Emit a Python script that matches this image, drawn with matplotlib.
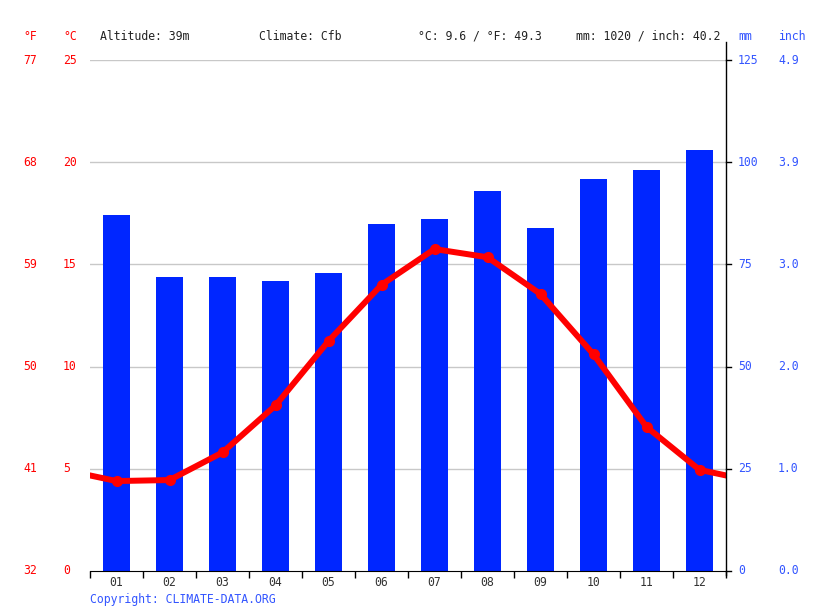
import matplotlib.pyplot as plt
import matplotlib.transforms as mtransforms

# climate data
months = ['01', '02', '03', '04', '05', '06', '07', '08', '09', '10', '11', '12']
precip_mm = [87, 72, 72, 71, 73, 85, 86, 93, 84, 96, 98, 103]
temp_c = [4.4, 4.45, 5.8, 8.1, 11.25, 14.0, 15.75, 15.35, 13.55, 10.6, 7.05, 4.95]
c_ticks = [0, 5, 10, 15, 20, 25]
f_labels = ['32', '41', '50', '59', '68', '77']
mm_ticks = [0, 25, 50, 75, 100, 125]
inch_labels = ['0.0', '1.0', '2.0', '3.0', '3.9', '4.9']

W, H = 815, 611
red = '#ff0000'
blue = '#0026ff'
txt_blue = '#3355ff'
mono = 'DejaVu Sans Mono'
fs = 8.3

fig = plt.figure(figsize=(W / 100, H / 100), dpi=100)
ax = fig.add_axes([90 / W, 40 / H, 636 / W, 511 / H])
ax2 = ax.twinx()

x = list(range(1, 13))
# bars on the mm axis
ax2.bar(x, precip_mm, width=0.51, color=blue, zorder=2)
ax2.set_ylim(0, 125)

# temperature line wraps around the year at the edges
line_x = [0] + x + [13]
line_y = [temp_c[-1]] + temp_c + [temp_c[0]]
ax.plot(line_x, line_y, color=red, lw=4.3, zorder=5, solid_capstyle='round')
ax.plot(x, temp_c, 'o', color=red, ms=7, zorder=6)
ax.set_zorder(ax2.get_zorder() + 1)
ax.patch.set_visible(False)
ax.set_xlim(0.5, 12.5)
ax.set_ylim(0, 25)

for c in c_ticks[1:]:
    ax2.axhline(c * 5, color='#c8c8c8', lw=1, zorder=1)

for a in (ax, ax2):
    for s in ['top', 'left', 'right']:
        a.spines[s].set_visible(False)
    a.set_yticks([])
ax2.spines['bottom'].set_visible(False)
ax.spines['bottom'].set_color('black')

# month ticks at the boundaries, labels centred
ax.set_xticks([i + 0.5 for i in range(0, 13)], minor=False)
ax.set_xticklabels([])
ax.tick_params(axis='x', length=5, width=1, color='black')
for i, m in enumerate(months):
    ax.text(x[i], -0.55, m, ha='center', va='center', fontsize=fs, family=mono,
            color='#333333')

# right spine extends up into the header
fig.add_artist(plt.Line2D([726 / W, 726 / W], [1 - 42 / H, 1 - 575 / H],
                          color='black', lw=1))

trans_l = mtransforms.blended_transform_factory(fig.transFigure, ax.transData)
trans_r = mtransforms.blended_transform_factory(fig.transFigure, ax2.transData)
for c, f in zip(c_ticks, f_labels):
    fig.text(23 / W, c, f, transform=trans_l, ha='left', va='center',
             fontsize=fs, family=mono, color=red)
    fig.text(63 / W, c, str(c), transform=trans_l, ha='left', va='center',
             fontsize=fs, family=mono, color=red)
for mm, inch in zip(mm_ticks, inch_labels):
    fig.text(738 / W, mm, str(mm), transform=trans_r, ha='left', va='center',
             fontsize=fs, family=mono, color=txt_blue)
    fig.text(778 / W, mm, inch, transform=trans_r, ha='left', va='center',
             fontsize=fs, family=mono, color=txt_blue)
    fig.add_artist(plt.Line2D([726 / W, 731 / W], [mm, mm], transform=trans_r,
                              color='black', lw=1))

# header row
hy = 1 - 36 / H
fig.text(23 / W, hy, '°F', ha='left', va='center', fontsize=fs, family=mono, color=red)
fig.text(63 / W, hy, '°C', ha='left', va='center', fontsize=fs, family=mono, color=red)
fig.text(100 / W, hy, 'Altitude: 39m', ha='left', va='center', fontsize=fs, family=mono, color='#222222')
fig.text(259 / W, hy, 'Climate: Cfb', ha='left', va='center', fontsize=fs, family=mono, color='#222222')
fig.text(418 / W, hy, '°C: 9.6 / °F: 49.3', ha='left', va='center', fontsize=fs, family=mono, color='#222222')
fig.text(576 / W, hy, 'mm: 1020 / inch: 40.2', ha='left', va='center', fontsize=fs, family=mono, color='#222222')
fig.text(738 / W, hy, 'mm', ha='left', va='center', fontsize=fs, family=mono, color=txt_blue)
fig.text(778 / W, hy, 'inch', ha='left', va='center', fontsize=fs, family=mono, color=txt_blue)

fig.text(90 / W, 1 - 599 / H, 'Copyright: CLIMATE-DATA.ORG', ha='left', va='center',
         fontsize=fs, family=mono, color=txt_blue)

fig.savefig('out.png', dpi=100)
